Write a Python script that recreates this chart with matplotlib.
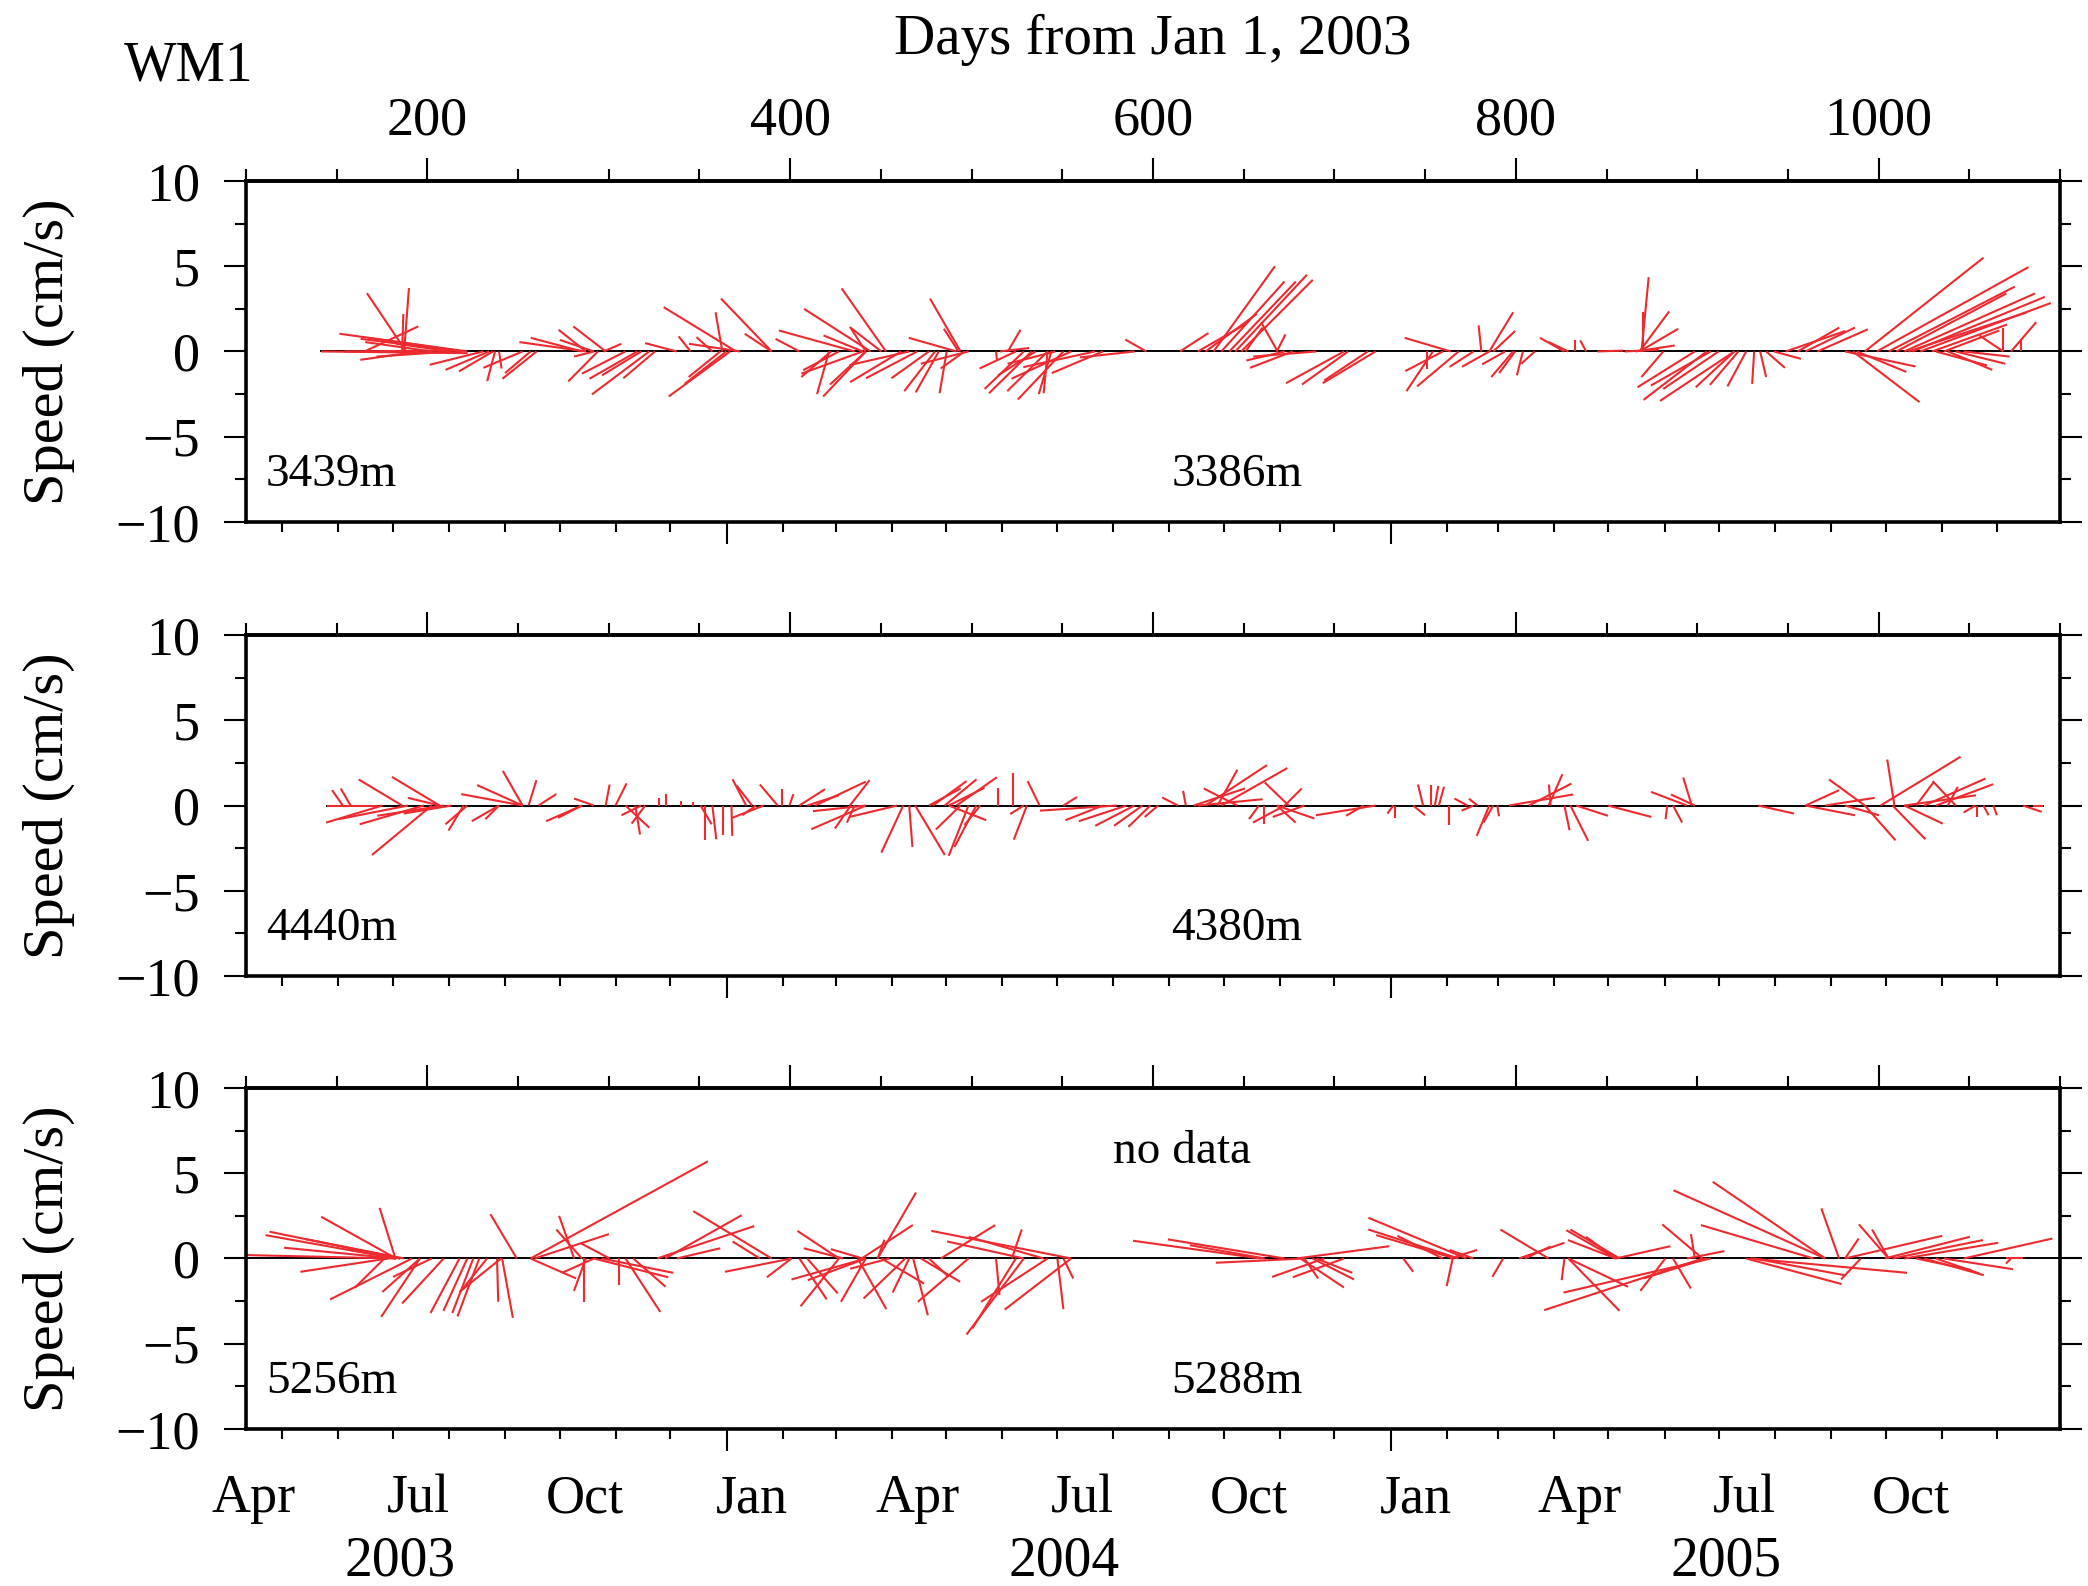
import numpy as np
import matplotlib
matplotlib.use("Agg")
import matplotlib.pyplot as plt
from matplotlib.collections import LineCollection
from matplotlib.ticker import MultipleLocator, FixedLocator, NullFormatter

plt.rcParams['font.family'] = ['Liberation Serif', 'DejaVu Serif']

# stick data: (day from Jan 1 2003, u [cm/s], v [cm/s])
sticks_top = [
    (141.4, 8.6, -0.1), (154.5, 6.7, 0.06), (222.0, -7.5, 1.04), (217.7, -5.8, 0.74),
    (202.4, -3.9, 0.55), (195.9, -3.5, -0.49), (213.3, -4.4, -0.3), (188.3, -2.3, 3.42),
    (187.2, 0.28, 3.72), (186.1, 0.07, 2.2), (165.4, 3.15, 1.47), (219.9, -5.6, 0.8),
    (213.3, -3.25, 0.45), (230.7, -3.13, -0.78), (234.0, -2.55, -1.08), (236.2, -2.0, -1.17),
    (237.3, -0.46, -1.74), (252.5, -2.3, -0.96), (260.2, -2.0, -1.6), (256.9, -1.5, -1.27),
    (239.5, 0.15, -1.0), (287.4, -3.9, 0.55), (285.2, -3.0, 0.8), (287.4, -1.6, 1.27),
    (291.8, -2.0, 0.68), (298.3, -1.9, 1.47), (297.2, 1.04, 0.45), (294.0, -1.74, -1.76),
    (322.3, -3.36, -2.52), (309.2, -2.55, -1.3), (315.7, -2.8, -1.6), (317.9, -2.3, -1.4),
    (325.5, -1.86, -1.57), (291.8, -1.16, -0.3), (337.5, -1.86, 0.49), (370.2, -4.25, 2.6),
    (345.1, -0.7, 0.88), (362.6, -0.4, 2.3), (389.8, -2.97, 3.1), (389.8, -1.58, 1.04),
    (357.1, -0.93, 0.84), (372.4, -3.0, 0.45), (366.9, -3.6, -2.64), (364.8, -2.44, -1.9),
    (361.5, -1.86, -1.5), (435.6, -4.45, 1.23), (405.1, -1.4, 0.74), (444.3, -3.9, 2.5),
    (452.8, -2.6, 3.7), (422.5, -1.74, -1.5), (421.4, -0.7, -2.5), (441.7, -2.5, -2.64),
    (441.7, -2.1, -1.94), (440.0, -3.6, -1.3), (426.9, -2.1, -1.1), (440.0, -2.3, 0.94),
    (441.7, -0.9, 1.4),
    (450.3, -1.86, 1.43), (493.9, -1.79, 3.1), (492.8, -0.86, 1.33), (491.7, -2.8, 0.8),
    (461.2, -3.0, -1.8), (470.0, -3.0, -1.57), (476.5, -2.2, -1.57), (479.8, -1.8, -2.33),
    (481.9, -1.35, -2.4), (486.3, -0.42, -2.45), (465.6, -3.5, -0.8), (498.3, -2.8, -0.72),
    (496.1, -1.4, -1.0), (524.4, -2.13, -1.0), (513.5, 0.05, -0.5), (520.0, 0.74, 1.27),
    (515.7, 1.7, 0.2), (528.8, -2.3, -2.2), (533.1, -2.5, -2.45), (541.9, -2.37, -2.33),
    (550.6, -2.67, -2.82), (544.0, -0.74, -2.5), (541.9, -0.23, -2.45), (535.3, -2.2, -1.4),
    (554.9, -3.5, -1.6), (572.4, -3.0, -1.27), (568.0, -4.2, -0.92), (546.2, -2.8, -0.72),
    (589.8, -3.2, -0.35), (596.3, -1.23, 0.7), (614.9, 1.67, 1.08), (624.7, 2.8, 1.6),
    (629.0, 3.0, 2.2), (633.4, 3.6, 5.0), (637.7, 3.7, 4.1), (642.1, 3.9, 4.1),
    (645.4, 4.2, 4.5), (648.6, 4.2, 4.2), (651.0, 1.0, 1.4), (668.7, -0.97, 1.72),
    (668.3, 0.5, 1.0), (672.6, -2.25, -0.53), (677.0, -2.5, -0.96), (705.3, -3.4, -1.86),
    (707.5, -2.7, -1.94), (722.7, -3.1, -1.86), (718.4, -2.55, -1.7), (690.0, -3.7, -0.3),
    (764.1, -2.7, 0.8), (754.3, -1.55, -2.33), (768.5, -2.44, -2.05), (759.8, -2.2, -1.15),
    (751.0, 0.0, -1.0),
    (776.7, -1.4, -0.9), (785.4, -1.6, -0.9), (794.1, -1.35, -0.76), (781.0, -0.16, 1.53),
    (785.4, 1.4, 2.3), (787.6, 1.28, 1.2), (798.5, -1.28, -1.5), (799.6, -0.93, -1.27),
    (803.9, -0.35, -1.4), (810.5, -0.8, -0.72), (826.8, -1.44, 0.8), (829.0, -1.16, 0.55),
    (832.9, 0.0, 0.68), (838.8, -0.35, 0.65), (845.0, 1.5, 0.05), (860.0, 2.0, 0.1),
    (869.3, 0.42, 4.36), (870.0, 0.0, 2.3), (868.2, 1.74, 2.35), (868.2, 2.27, 1.33),
    (866.0, 2.3, 0.35), (881.3, -1.28, -1.5), (898.7, -3.36, -2.1), (905.2, -3.7, -2.84),
    (920.5, -4.36, -2.9), (907.4, -3.5, -2.0), (911.8, -3.25, -2.2), (920.5, -2.27, -2.1),
    (922.7, -1.67, -1.96), (927.0, -1.1, -2.05), (931.4, -0.12, -1.9), (934.7, 0.35, -1.5),
    (938.0, 1.1, -0.96), (942.3, 1.58, -0.43), (955.4, 2.44, 1.4), (959.7, 2.9, 1.4),
    (966.3, 2.95, 1.3), (948.8, 3.5, 1.2), (992.4, 6.96, 5.5), (999.0, 8.9, 4.95),
    (1005.5, 7.4, 3.8), (1009.8, 6.45, 3.4), (1014.2, 7.66, 3.4), (1018.6, 7.77, 3.2),
    (1022.9, 7.66, 2.84), (1016.4, 6.96, 2.3), (1029.5, 4.4, 1.58), (1036.0, 3.25, 1.23),
    (1073.0, 1.48, 1.72), (1068.7, 0.0, 1.4), (1068.7, -1.4, 0.94), (1078.5, 0.0, 0.65),
    (985.9, 3.9, -2.97), (981.5, 4.13, -0.88), (988.0, 2.9, -1.2), (1031.6, 3.0, -0.82),
    (1038.2, 2.6, -1.08), (1042.5, 2.9, -0.72), (1046.9, 2.7, -0.3),
]

sticks_mid = [
    (144.7, 3.0, 0.0), (153.4, -0.63, 0.9), (157.7, -0.58, 1.0), (186.1, -2.55, 1.53),
    (206.8, -2.8, 1.68), (206.8, -1.86, 0.45), (175.2, -3.3, -1.0), (189.3, -4.06, -0.8),
    (198.0, -3.76, -1.1), (202.4, -3.5, -2.9), (209.0, -3.9, -0.6), (213.3, -2.8, -0.47),
    (219.9, -0.88, -1.47), (222.0, -1.28, -1.1), (239.5, -1.6, -0.92), (239.5, -0.8, -0.8),
    (252.5, -3.6, 0.67), (252.5, -2.67, 1.2), (252.5, -1.16, 2.03), (255.8, 0.46, 1.49),
    (261.3, 1.04, 0.67), (285.2, -2.1, -0.92), (285.2, -1.4, -0.72), (291.8, -1.16, 0.41),
    (298.3, 0.23, 1.23), (303.7, 0.65, 1.3), (314.6, 0.28, -1.7), (309.2, 1.4, -1.3),
    (320.1, -0.8, -1.06), (317.9, -1.16, -0.57), (327.7, 0.0, 0.45), (331.4, 0.0, 0.65),
    (340.0, 0.0, 0.25), (346.3, 0.0, 0.2), (353.2, 0.0, -2.05), (357.1, 0.23, -1.98),
    (363.0, 0.0, -1.74), (367.6, 0.05, -1.78), (350.6, 0.65, -1.1), (375.7, -0.8, 1.55),
    (379.0, -0.93, 1.2), (393.1, -1.04, 1.23), (395.3, 0.0, 0.96), (399.6, 0.23, 0.67),
    (385.5, -1.86, -0.72), (381.1, -0.8, -0.57), (405.1, 1.5, 0.96), (413.8, 2.97, 1.4),
    (409.4, 1.86, 0.6), (441.7, -3.2, -1.39), (441.7, -3.1, -0.33), (433.4, -0.93, -1.35),
    (435.6, -0.46, -1.0),
    (432.9, 1.16, 1.49), (459.0, -2.8, -0.67), (462.3, -1.28, -2.76), (465.6, 0.19, -2.43),
    (468.9, 1.74, -2.9), (498.3, -1.16, -2.95), (502.6, -1.28, -2.43), (493.9, -1.44, -1.4),
    (504.8, -0.93, -1.15), (487.4, 2.2, -0.86), (478.7, 1.97, 1.43), (485.2, 1.86, 1.53),
    (491.7, 2.37, 1.66), (487.4, 2.1, 1.04), (476.5, 1.86, 1.0), (522.7, 0.0, 1.9),
    (514.6, 0.0, 1.0), (537.5, -0.7, 1.43), (530.5, -0.77, -2.0), (528.8, -0.8, -0.5),
    (572.4, -2.2, -0.86), (585.4, -2.8, -0.92), (589.8, -2.3, -1.19), (594.2, -1.67, -1.19),
    (598.5, -1.28, -1.25), (602.9, -0.8, -0.67), (580.0, -4.5, -0.3), (550.6, 0.8, 0.5),
    (613.8, -0.93, 0.47), (618.1, -0.16, 0.86), (635.6, 1.16, 2.1), (629.0, 3.6, 2.37),
    (637.7, 3.87, 2.2), (646.5, -1.97, 1.0), (674.8, -1.4, 1.35), (672.6, 1.0, 1.0),
    (622.5, 3.0, 1.0), (624.7, 3.8, 0.37), (658.4, -0.58, -0.8), (661.3, 0.0, -1.06),
    (672.6, -1.86, -1.0), (683.5, -1.86, -0.67), (668.3, 1.1, -1.0), (668.3, 2.2, -0.76),
    (722.7, -3.5, -0.57), (716.2, -1.04, -0.6), (732.5, -0.35, -0.47), (733.6, 0.0, -0.72),
    (748.9, -0.3, 1.23), (753.2, 0.0, 1.2), (755.4, 0.2, 1.15), (757.6, 0.3, 1.1),
    (743.4, 0.7, -0.57), (763.0, 0.0, -1.12),
    (773.4, -0.77, 0.41), (778.9, -0.5, 0.4), (776.7, -0.7, -0.3), (785.4, -0.74, -1.78),
    (787.6, -0.58, -1.0), (789.8, 0.1, -0.63), (818.1, 0.81, 1.84), (807.2, 2.5, 1.29),
    (796.3, 3.76, 0.65), (819.2, -0.1, 1.23), (826.8, 0.3, -1.45), (830.1, 1.04, -2.07),
    (833.3, 1.86, -0.6), (850.8, 2.55, -0.67), (894.3, -2.1, 0.8), (898.7, -1.4, 0.65),
    (897.0, -0.5, 1.64), (883.5, -0.1, -0.8), (886.7, 0.53, -1.0), (933.6, 2.1, -0.47),
    (959.7, 1.97, 0.9), (970.6, 2.9, 0.45), (992.4, -2.1, 1.53), (1008.7, -0.42, 2.7),
    (1001.1, 4.69, 2.86), (1020.7, 1.04, 1.39), (1025.1, 3.6, 1.58), (1031.6, 3.36, 1.25),
    (1042.5, -1.35, 1.43), (1038.2, 0.58, 1.1), (1014.2, 4.2, 0.6), (992.4, 1.8, -2.04),
    (1007.7, 1.93, -1.98), (1014.2, 2.25, -1.06), (959.7, 2.9, -0.57), (981.5, 2.0, -0.57),
    (1053.4, -0.7, -0.41), (1054.5, 0.0, -0.67), (1057.8, 0.3, -0.57), (1063.3, 0.2, -0.57),
    (1079.6, 1.1, -0.37), (1085.0, 0.6, 0.0),
]

sticks_bot = [
    (182.8, -8.8, 0.2), (182.8, -7.66, 1.37), (185.0, -7.66, 1.57), (187.2, -5.8, 1.14),
    (182.8, -6.57, 0.63), (182.8, -4.4, 2.45), (182.4, -0.93, 2.97), (185.0, -3.1, 0.53),
    (178.4, -5.15, -0.78), (191.5, -4.8, -2.4), (176.3, -1.74, -1.72), (195.9, -2.2, -1.96),
    (202.4, -2.27, -1.08), (195.9, -2.27, -3.42), (209.0, -2.44, -2.64), (217.7, -1.7, -3.2),
    (222.0, -1.4, -3.07), (225.3, -1.23, -3.2), (228.6, -1.28, -3.4), (232.9, -1.5, -1.86),
    (240.6, -2.44, -1.96), (238.4, 0.07, -2.54), (241.2, 0.63, -3.48), (249.3, -1.55, 2.6),
    (256.9, 10.4, 5.7), (259.1, 4.36, 1.43), (280.9, -0.88, 2.5), (285.2, -1.5, 1.7),
    (300.5, -1.67, 0.88), (256.9, 2.67, -1.17), (291.8, -1.86, -0.84), (287.4, -0.7, -1.9),
    (286.3, 0.0, -2.54), (305.9, 0.0, -1.56), (309.2, 2.04, -3.13), (313.5, 1.9, -1.66),
    (291.8, 4.36, -1.1), (296.1, 4.2, -0.84), (331.0, 4.5, 2.54), (326.6, 5.7, 1.9),
    (389.8, -4.6, 2.78), (337.5, 2.55, 0.6), (383.3, -1.6, 1.0), (400.7, -3.9, -0.78),
    (400.7, -1.44, -1.1), (426.9, -2.44, 1.62), (429.1, -2.3, 0.6), (439.9, -1.86, 0.55),
    (441.7, -4.36, -1.23), (426.9, -2.25, -2.8), (405.1, 1.6, -2.4), (409.4, 1.79, -2.05),
    (441.7, -1.46, -2.54), (441.7, -3.4, -1.27),
    (454.7, -2.3, -0.6), (463.4, -2.44, -2.35), (437.3, 1.67, -2.97), (465.6, -0.97, -2.0),
    (450.3, 2.5, -1.47), (467.8, 0.86, -3.33), (498.3, -2.97, -2.54), (448.2, 2.25, 3.87),
    (439.4, 3.0, 1.96), (448.2, 0.4, 1.1), (554.9, -8.2, 1.62), (528.8, -4.5, 1.0),
    (483.0, 3.2, 1.96), (522.2, 0.58, 1.7), (539.7, -4.4, 1.27), (528.8, -3.36, -4.46),
    (524.4, -2.55, -4.1), (554.9, -3.9, -3.0), (541.9, -3.9, -2.54), (513.5, 0.2, -2.15),
    (547.3, 0.35, -2.97), (550.6, 0.58, -1.17), (472.1, 2.3, -1.37), (476.5, 1.16, -1.08),
    (659.5, -7.5, 1.04), (672.6, -6.85, 1.12), (661.7, -4.4, 0.78), (683.5, -5.2, -0.25),
    (694.4, -3.06, -1.08), (705.3, -3.0, -1.1), (683.5, 0.8, -1.17), (681.3, 2.55, -1.7),
    (687.9, 2.44, -1.23), (690.1, 2.1, -0.84), (679.1, 5.45, 0.72), (772.8, -5.75, 2.39),
    (768.5, -5.3, 1.7), (766.3, -4.6, 1.37), (759.8, -2.67, 1.33), (738.0, 0.58, -0.78),
    (765.2, -0.35, -1.62),
    (776.7, -1.4, 0.5), (763.6, 1.6, 0.5), (793.0, -0.63, -1.08), (818.1, -2.83, 1.7),
    (801.7, 2.67, 0.92), (805.0, 1.5, 0.7), (855.1, -2.9, 1.66), (855.1, -1.74, 1.27),
    (855.1, -2.8, 1.08), (857.3, -2.9, 1.7), (855.1, 3.2, 0.72), (903.0, -2.37, 2.0),
    (898.7, -0.23, 1.43), (894.3, 2.2, 0.43), (826.8, -0.16, -1.27), (829.0, 3.0, -3.07),
    (829.0, 3.5, -1.66), (907.4, -8.63, -2.0), (903.0, -9.3, -3.03), (882.4, -1.46, -1.9),
    (886.7, 1.04, -1.76), (905.2, -3.7, -1.17), (970.6, -8.9, 4.0), (970.6, -6.6, 4.5),
    (964.1, -6.6, 1.96), (978.2, -1.04, 2.94), (1005.5, -1.74, 2.0), (1005.5, -0.97, 1.7),
    (981.5, 0.8, 1.17), (927.0, 5.6, -1.5), (931.4, 5.3, -0.98), (929.2, 9.2, -0.84),
    (990.2, -1.16, -1.23), (981.5, 5.7, 1.33), (1003.3, 5.0, 1.27), (1007.7, 5.3, 1.08),
    (1014.2, 5.5, 0.92), (1046.9, 5.2, 1.17), (1025.1, 3.5, -0.98), (1031.6, 2.55, -0.88),
    (1036.0, 4.06, -0.63), (1020.7, 3.25, -0.68), (1073.0, -0.3, -0.3), (1070.0, 1.0, 0.0),
]

panels = [sticks_top, sticks_mid, sticks_bot]
depth_left = ['3439m', '4440m', '5256m']
depth_right = ['3386m', '4380m', '5288m']
record_start = [141, 144, 100]   # day where the series starts
record_end = [1100, 1091, 1100]

xmin, xmax = 100, 1100
ymin, ymax = -10, 10
day_ticks = [200, 400, 600, 800, 1000]

# month / year annotation
months = np.arange(np.datetime64('2003-04'), np.datetime64('2006-01'), dtype='datetime64[M]')
jan1 = np.datetime64('2003-01-01')
month_days = (months.astype('datetime64[D]') - jan1).astype(int)
year_days = [365, 731]
label_months = ['Apr', 'Jul', 'Oct', 'Jan', 'Apr', 'Jul', 'Oct', 'Jan', 'Apr', 'Jul', 'Oct']
label_month_days = month_days[::3] + 14
year_labels = ['2003', '2004', '2005']
year_label_days = [185, 551, 916]

fig = plt.figure(figsize=(20.88, 15.86), dpi=100)
left, width, height = 0.1178, 0.8688, 0.2150
bottoms = [0.6709, 0.3846, 0.0990]

red = '#ec2a2f'
tick_fs = 39

for i, sticks in enumerate(panels):
    ax = fig.add_axes([left, bottoms[i], width, height])
    ax.set_xlim(xmin, xmax)
    ax.set_ylim(ymin, ymax)

    # equal screen scale for u (days axis) and v
    w_px = width * fig.get_figwidth() * fig.dpi
    h_px = height * fig.get_figheight() * fig.dpi
    days_per_cms = (h_px / (ymax - ymin)) / (w_px / (xmax - xmin))

    t, u, v = np.array(sticks).T
    segs = [[(ti, 0.0), (ti + ui * days_per_cms, vi)] for ti, ui, vi in zip(t, u, v)]
    ax.hlines(0, record_start[i], record_end[i], color='black', lw=1.4, zorder=1)
    ax.add_collection(LineCollection(segs, colors=red, linewidths=1.5, zorder=2))

    for s in ax.spines.values():
        s.set_linewidth(2.6)

    # bottom: month ticks
    ax.xaxis.set_major_locator(FixedLocator(year_days))
    ax.xaxis.set_minor_locator(FixedLocator(month_days))
    ax.tick_params(axis='x', which='major', direction='out', length=16, width=1.5,
                   labelbottom=False)
    ax.tick_params(axis='x', which='minor', direction='out', length=7.5, width=1.5)

    # left/right: speed
    ax.yaxis.set_major_locator(MultipleLocator(5))
    ax.yaxis.set_minor_locator(MultipleLocator(2.5))
    ax.tick_params(axis='y', which='both', direction='out', right=True, width=1.5,
                   labelsize=tick_fs, pad=17)
    ax.tick_params(axis='y', which='major', length=16)
    ax.tick_params(axis='y', which='minor', length=8)
    ax.set_ylabel('Speed (cm/s)', fontsize=42)
    ax.yaxis.set_label_coords(-0.094, 0.5)

    # top: days from Jan 1, 2003
    sec = ax.secondary_xaxis('top')
    sec.xaxis.set_major_locator(FixedLocator(day_ticks))
    sec.xaxis.set_minor_locator(MultipleLocator(50))
    sec.tick_params(axis='x', which='major', direction='out', length=16.5, width=1.5,
                    labelsize=tick_fs, pad=8)
    sec.tick_params(axis='x', which='minor', direction='out', length=8.5, width=1.5)
    sec.spines['top'].set_linewidth(2.6)
    if i > 0:
        sec.xaxis.set_major_formatter(NullFormatter())

    ax.text(111, -7.25, depth_left[i], fontsize=34, ha='left', va='center')
    ax.text(610, -7.25, depth_right[i], fontsize=34, ha='left', va='center')

    if i == 2:
        ax.text(616, 6.25, 'no data', fontsize=34, ha='center', va='center')
        trans = ax.get_xaxis_transform()
        for d, name in zip(label_month_days, label_months):
            ax.text(d, -0.205, name, transform=trans, fontsize=tick_fs,
                    ha='center', va='center')
        for d, name in zip(year_label_days, year_labels):
            ax.text(d, -0.389, name, transform=trans, fontsize=40,
                    ha='center', va='center')

fig.text(0.552, 0.975, 'Days from Jan 1, 2003', fontsize=41, ha='center', va='center')
fig.text(0.0594, 0.958, 'WM1', fontsize=40, ha='left', va='center')

fig.savefig('out.png', dpi=100)
